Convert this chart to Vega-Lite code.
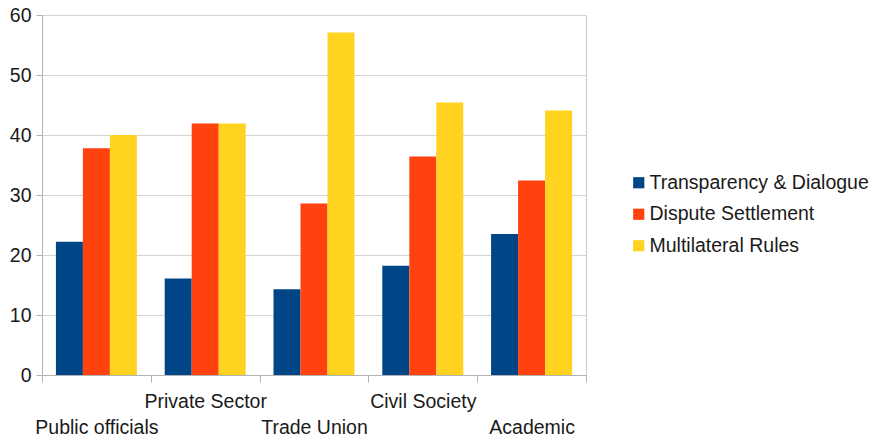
{
  "$schema": "https://vega.github.io/schema/vega-lite/v6.json",
  "width": 544,
  "height": 360,
  "autosize": "none",
  "padding": {"left": 42, "top": 15, "right": 287, "bottom": 63},
  "background": "white",
  "config": {
    "font": "Liberation Sans",
    "view": {"stroke": "#c8c8c8", "strokeWidth": 1}
  },
  "data": {
    "values": [
      {"group": "Public officials", "series": "Transparency & Dialogue", "value": 22.2},
      {"group": "Public officials", "series": "Dispute Settlement", "value": 37.8},
      {"group": "Public officials", "series": "Multilateral Rules", "value": 40.0},
      {"group": "Private Sector", "series": "Transparency & Dialogue", "value": 16.1},
      {"group": "Private Sector", "series": "Dispute Settlement", "value": 41.9},
      {"group": "Private Sector", "series": "Multilateral Rules", "value": 41.9},
      {"group": "Trade Union", "series": "Transparency & Dialogue", "value": 14.3},
      {"group": "Trade Union", "series": "Dispute Settlement", "value": 28.6},
      {"group": "Trade Union", "series": "Multilateral Rules", "value": 57.1},
      {"group": "Civil Society", "series": "Transparency & Dialogue", "value": 18.2},
      {"group": "Civil Society", "series": "Dispute Settlement", "value": 36.4},
      {"group": "Civil Society", "series": "Multilateral Rules", "value": 45.4},
      {"group": "Academic", "series": "Transparency & Dialogue", "value": 23.5},
      {"group": "Academic", "series": "Dispute Settlement", "value": 32.4},
      {"group": "Academic", "series": "Multilateral Rules", "value": 44.1}
    ]
  },
  "mark": {"type": "bar"},
  "encoding": {
    "x": {
      "field": "group",
      "type": "nominal",
      "sort": ["Public officials", "Private Sector", "Trade Union", "Civil Society", "Academic"],
      "scale": {"paddingInner": 0, "paddingOuter": 0},
      "axis": {
        "title": null,
        "labelAngle": 0,
        "tickBand": "extent",
        "tickSize": 7,
        "tickColor": "#b3b3b3",
        "domainColor": "#b3b3b3",
        "grid": false,
        "labelFontSize": 19.5,
        "labelColor": "#1a1a1a",
        "labelPadding": 10,
        "labelBaseline": "top",
        "labelLineHeight": 26,
        "labelOverlap": false,
        "labelExpr": "indexof(['Private Sector','Civil Society'], datum.label) >= 0 ? datum.label : ['', datum.label]"
      }
    },
    "xOffset": {
      "field": "series",
      "sort": ["Transparency & Dialogue", "Dispute Settlement", "Multilateral Rules"],
      "scale": {"paddingInner": 0, "paddingOuter": 0.515}
    },
    "y": {
      "field": "value",
      "type": "quantitative",
      "scale": {"domain": [0, 60], "nice": false},
      "axis": {
        "title": null,
        "values": [0, 10, 20, 30, 40, 50, 60],
        "tickSize": 6,
        "tickColor": "#b3b3b3",
        "domainColor": "#b3b3b3",
        "gridColor": "#d4d4d4",
        "labelFontSize": 19.5,
        "labelColor": "#1a1a1a",
        "labelPadding": 5
      }
    },
    "color": {
      "field": "series",
      "type": "nominal",
      "sort": ["Transparency & Dialogue", "Dispute Settlement", "Multilateral Rules"],
      "scale": {
        "domain": ["Transparency & Dialogue", "Dispute Settlement", "Multilateral Rules"],
        "range": ["#004586", "#ff420e", "#ffd320"]
      },
      "legend": {
        "title": null,
        "orient": "none",
        "legendX": 587,
        "legendY": 158,
        "padding": 0,
        "symbolType": "square",
        "symbolSize": 125,
        "symbolStrokeWidth": 0,
        "labelFontSize": 19.5,
        "labelColor": "#1a1a1a",
        "labelOffset": 1,
        "rowPadding": 10.5,
        "labelLimit": 300
      }
    }
  }
}
